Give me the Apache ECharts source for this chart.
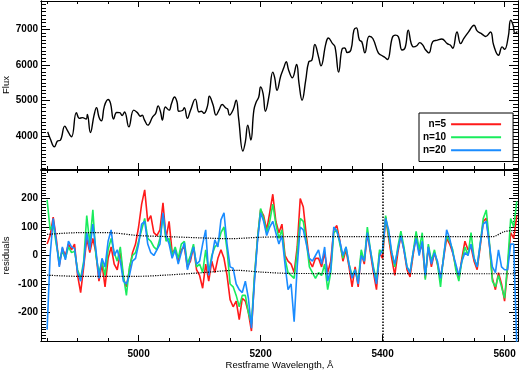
<!DOCTYPE html>
<html>
<head>
<meta charset="utf-8">
<script src="https://cdn.jsdelivr.net/npm/echarts@6/dist/echarts.min.js"></script>
<style>
html, body { margin: 0; padding: 0; background: #fff; }
#chart { width: 523px; height: 373px; }
</style>
</head>
<body>
<div id="chart"></div>
<script>
// flux spectrum (top panel), wavelength in Angstrom
var fluxWave = [4851, 4855, 4862, 4867, 4872, 4879, 4883, 4890, 4898, 4903, 4908, 4914, 4916, 4921, 4927, 4931, 4935, 4939, 4944, 4950,
    4954, 4959, 4964, 4969, 4973, 4977, 4984, 4992, 4998, 5003, 5006, 5009, 5015, 5023, 5028, 5032, 5036, 5039, 5044, 5050,
    5054, 5059, 5063, 5066, 5072, 5075, 5080, 5085, 5093, 5099, 5103, 5107, 5113, 5116, 5122, 5127, 5132, 5137, 5143, 5146,
    5149, 5155, 5160, 5164, 5171, 5175, 5179, 5184, 5189, 5193, 5197, 5200, 5204, 5208, 5214, 5220, 5223, 5227, 5233, 5238,
    5242, 5246, 5252, 5259, 5263, 5268, 5274, 5279, 5284, 5289, 5295, 5299, 5307, 5311, 5318, 5322, 5328, 5334, 5338, 5342,
    5348, 5353, 5357, 5362, 5366, 5371, 5378, 5384, 5393, 5398, 5404, 5408, 5416, 5421, 5426, 5432, 5437, 5442, 5447, 5451,
    5456, 5461, 5466, 5470, 5476, 5482, 5490, 5497, 5506, 5511, 5515, 5522, 5528, 5533, 5541, 5550, 5555, 5563, 5569, 5577,
    5582, 5590, 5596, 5600, 5606, 5610, 5614, 5617, 5621];
var fluxValue = [4120, 3935, 3700, 3860, 3890, 4280, 4170, 3980, 4660, 4500, 4520, 4480, 4610, 4100, 4590, 4800, 4540, 4430, 4850, 5030,
    4920, 4480, 4665, 4660, 4580, 4680, 4260, 4730, 4660, 4560, 4590, 4480, 4310, 4540, 4640, 4850, 4680, 4450, 4820, 4730,
    4920, 5100, 4960, 4700, 4720, 4800, 4500, 4720, 5040, 4680, 4700, 4640, 4850, 5120, 4880, 4590, 4740, 4890, 4790, 4760,
    4590, 4740, 5010, 4500, 3580, 3840, 4310, 3890, 4730, 4965, 5100, 5385, 5200, 4700, 5150, 5800, 5650, 5290, 5690, 5920,
    6090, 5855, 5640, 6015, 5480, 5010, 5575, 6090, 6135, 6575, 6230, 5975, 6600, 6760, 6600, 6510, 5800, 6465, 6480, 6350,
    6420, 6980, 7045, 6700, 6650, 6340, 6810, 6745, 6340, 6275, 6210, 6155, 6775, 6840, 6790, 6420, 6490, 6980, 6600, 6510,
    6540, 6630, 6560, 6435, 6340, 6650, 6700, 6730, 6600, 6560, 6470, 6930, 6600, 6740, 6930, 7120, 6960, 6870, 6800, 6930,
    6560, 6275, 6510, 6440, 6790, 7260, 7120, 6890, 6940];

// residuals (bottom panel), sampled every 5 A from 4850 A
var resN5 = [
    40, 70, 135, 60, -35, 25, 0, 40, 20, 40,
    -70, -130, -40, 60, 10, 60, 10, -90, -30, -110,
    -10, 30, -30, -50, 10, -80, -110, -50, 10, 40,
    100, 180, 230, 120, 140, 80, 70, 90, 185, 60,
    120, 10, 20, -20, 20, 30, -40, -20, 30, -50,
    -70, -115, -30, -90, -20, -60, -10, 20, -10, -70,
    -155, -180, -160, -225, -150, -160, -200, -265, -80, 60,
    160, 140, 90, 150, 215, 120, 80, 110, 0, -20,
    -30, -60, 30, 200, 170, 70, -20, -40, -10, -10,
    -40, 10, -60, -20, 90, 105, 50, -20, 20, -40,
    -110, -40, -110, 10, -30, 80, 10, -60, -120, 10,
    -10, 135, 60, -10, -70, 10, 70, 20, -50, -75,
    0, 70, 10, 40, -80, 30, -40, 10, -30, -80,
    -10, 60, 40, 10, -40, -80, -10, 50, 20, 30,
    -20, -50, 30, 120, 130, 40, -80, -120, -60, -100,
    -160, -40, 80, 60, 140];
var resN10 = [
    195, 90, 110, 40, -20, 15, -10, 30, 10, 15,
    -50, -80, -20, 140, 40, 160, 0, -60, -20, -70,
    20, 60, 10, -20, 30, -70, -140, -40, 0, 10,
    50, 90, 130, 60, 50, 30, 20, 60, 140, 50,
    60, 0, 30, -10, 40, 50, -30, 0, 40, -40,
    -30, -60, 20, -60, 0, 30, 40, 80, 100, 20,
    -100, -110, -140, -180, -140, -140, -200, -240, -70, 60,
    165, 130, 80, 120, 180, 110, 60, 90, -10, -60,
    -70, -80, 10, 130, 120, 50, -40, -60, -80, -60,
    -70, -30, -120, -60, 80, 90, 40, -10, 30, -30,
    -70, -50, -90, 20, -20, 100, 20, -40, -90, 20,
    10, 140, 70, 10, -40, 30, 85, 30, -40, -60,
    10, 85, 20, 80, -85, 40, -20, 20, -30, -110,
    0, 70, 50, 20, -50, -90, -20, 30, 0, 80,
    -10, -40, 40, 130, 160, 50, -90, -110, -70, -110,
    -150, -30, 130, 100, 190];
var resN20 = [
    -260, 0, 130, 50, -40, 30, -15, 50, 30, 25,
    -60, -90, -30, 80, 20, 110, 20, -80, -10, -40,
    50, 90, 0, 20, -20, -90, -100, -70, -20, -10,
    40, 110, 120, 40, 10, 0, 20, 40, 150, 70,
    40, -10, 20, -30, 10, 45, -50, -10, 30, -30,
    -20, 40, 90, -70, -10, 55, 30, 125, 150, 40,
    -40, -45, -100, -120, -130, -90, -150, -255, -90, 50,
    150, 120, 70, 100, 120, 80, 40, 70, -30, -120,
    -100, -232, -40, 100, 90, 40, -10, -20, 0, 20,
    -30, 30, -90, -50, 100, 85, 50, 0, 30, -30,
    -80, -50, -100, 0, -20, 80, 20, -50, -100, 0,
    20, 130, 90, 10, -30, 20, 70, 20, -40, -60,
    10, 60, 0, 50, -70, 30, -30, 10, -20, -80,
    -10, 90, 60, 10, -30, -70, -20, 10, 0, 40,
    -10, -40, 40, 110, 120, 40, -40, -60, 20, -40,
    -50, -50, 40, 40, -320];

// dotted error envelope
var envUpWave = [4850, 4900, 4950, 5000, 5050, 5100, 5150, 5200, 5250, 5580, 5600, 5620];
var envUp = [74, 80, 80, 70, 66, 62, 59, 64, 66, 66, 84, 88];
var envLowWave = [4850, 4900, 5000, 5050, 5100, 5160, 5200, 5250, 5620];
var envLow = [-69, -73, -73, -68, -61, -52, -58, -63, -64];

var seriesNames = ['n=5', 'n=10', 'n=20'];
var seriesColors = ['#ff1a1a', '#19ec5c', '#1a8cff'];
var markWave = 5400;

var xMajor = [5000, 5200, 5400, 5600];
var fluxMajor = [4000, 5000, 6000, 7000];
var resMajor = [-200, -100, 0, 100, 200];

var xMin = 4840, xMax = 5622;
var fluxMin = 3075, fluxMax = 7800;
var resMin = -300, resMax = 300;

var font = 'Liberation Sans, Arial, sans-serif';

function steps(a, b, s) {
    var out = [];
    for (var v = a; v <= b + 1e-9; v += s) out.push(Math.round(v * 1000) / 1000);
    return out;
}

function zip(xs, ys) {
    return xs.map(function (x, i) { return [x, ys[i]]; });
}

var resWave = [];
for (var i = 0; i < resN5.length; i++) resWave.push(4850 + 5 * i);

function axis(dim, grid, pos, min, max, ticks, len, labels, extra) {
    var a = {
        type: 'value', gridIndex: grid, position: pos, min: min, max: max,
        axisLine: {show: true, onZero: false, lineStyle: {color: '#000', width: 1}},
        axisTick: {show: true, inside: true, length: len, customValues: ticks, lineStyle: {color: '#000', width: 1}},
        axisLabel: {show: false},
        splitLine: {show: false}
    };
    if (labels) {
        a.axisLabel = {
            show: true, customValues: ticks, color: '#000', fontSize: 10, fontWeight: 'bold',
            fontFamily: font, margin: dim === 'x' ? 8 : 3,
            formatter: function (v) { return String(v); }
        };
    }
    if (extra) for (var k in extra) a[k] = extra[k];
    return a;
}

var nameStyle = {color: '#000', fontSize: 9.5, fontFamily: font};

var xAxes = [
    axis('x', 0, 'bottom', xMin, xMax, steps(4850, 5600, 50), 3, false),
    axis('x', 0, 'bottom', xMin, xMax, xMajor, 6, false),
    axis('x', 0, 'top', xMin, xMax, steps(4850, 5600, 50), 3, false),
    axis('x', 0, 'top', xMin, xMax, xMajor, 6, false),
    axis('x', 1, 'bottom', xMin, xMax, steps(4850, 5600, 50), 3, false),
    axis('x', 1, 'bottom', xMin, xMax, xMajor, 6, true, {
        name: 'Restframe Wavelength, Å', nameLocation: 'middle', nameGap: 19,
        nameMoveOverlap: false, nameTextStyle: nameStyle
    }),
    axis('x', 1, 'top', xMin, xMax, steps(4850, 5600, 50), 3, false),
    axis('x', 1, 'top', xMin, xMax, xMajor, 6, false)
];

var yAxes = [
    axis('y', 0, 'left', fluxMin, fluxMax, steps(3100, 7800, 100), 5, false),
    axis('y', 0, 'left', fluxMin, fluxMax, fluxMajor, 9, true, {
        name: 'Flux', nameLocation: 'middle', nameGap: 30, nameMoveOverlap: false, nameTextStyle: nameStyle
    }),
    axis('y', 0, 'right', fluxMin, fluxMax, steps(3100, 7800, 100), 5, false),
    axis('y', 0, 'right', fluxMin, fluxMax, fluxMajor, 9, false),
    axis('y', 1, 'left', resMin, resMax, steps(-300, 300, 10), 5, false),
    axis('y', 1, 'left', resMin, resMax, resMajor, 9, true, {
        name: 'residuals', nameLocation: 'middle', nameGap: 30, nameMoveOverlap: false, nameTextStyle: nameStyle
    }),
    axis('y', 1, 'right', resMin, resMax, steps(-300, 300, 10), 5, false),
    axis('y', 1, 'right', resMin, resMax, resMajor, 9, false)
];

var resData = [resN5, resN10, resN20];
var series = [{
    name: 'Flux', type: 'line', xAxisIndex: 0, yAxisIndex: 0,
    data: zip(fluxWave, fluxValue), symbol: 'none', smooth: 0.45,
    lineStyle: {color: '#000', width: 1.4}, z: 3
}];
resData.forEach(function (vals, k) {
    series.push({
        name: seriesNames[k], type: 'line', xAxisIndex: 4, yAxisIndex: 4,
        data: zip(resWave, vals), symbol: 'none', color: seriesColors[k],
        lineStyle: {color: seriesColors[k], width: 1.6}, z: 2 + k
    });
});
series.push({
    name: 'upper', type: 'line', xAxisIndex: 4, yAxisIndex: 4,
    data: zip(envUpWave, envUp), symbol: 'none', smooth: 0.3,
    lineStyle: {color: '#000', width: 1.2, type: 'dotted'}, z: 6,
    markLine: {
        silent: true, symbol: ['none', 'none'], label: {show: false},
        lineStyle: {color: '#000', width: 1.5, type: 'dotted'},
        data: [{xAxis: markWave}]
    }
});
series.push({
    name: 'lower', type: 'line', xAxisIndex: 4, yAxisIndex: 4,
    data: zip(envLowWave, envLow), symbol: 'none', smooth: 0.3,
    lineStyle: {color: '#000', width: 1.2, type: 'dotted'}, z: 6
});

var chart = echarts.init(document.getElementById('chart'), null, {renderer: 'canvas'});
chart.setOption({
    animation: false,
    backgroundColor: '#fff',
    grid: [
        {left: 41, right: 5, top: 1, height: 168, containLabel: false, outerBoundsMode: 'none'},
        {left: 41, right: 5, top: 170, height: 171, containLabel: false, outerBoundsMode: 'none'}
    ],
    legend: {
        data: seriesNames, orient: 'vertical', left: 419, top: 113, align: 'right',
        icon: 'rect', itemWidth: 50, itemHeight: 2, itemGap: 0.5, padding: [5, 12, 5, 4],
        borderColor: '#000', borderWidth: 1, borderRadius: 0, backgroundColor: '#fff',
        textStyle: {color: '#000', fontSize: 10, fontWeight: 'bold', fontFamily: font, lineHeight: 12.5}
    },
    xAxis: xAxes,
    yAxis: yAxes,
    series: series
});
</script>
</body>
</html>
